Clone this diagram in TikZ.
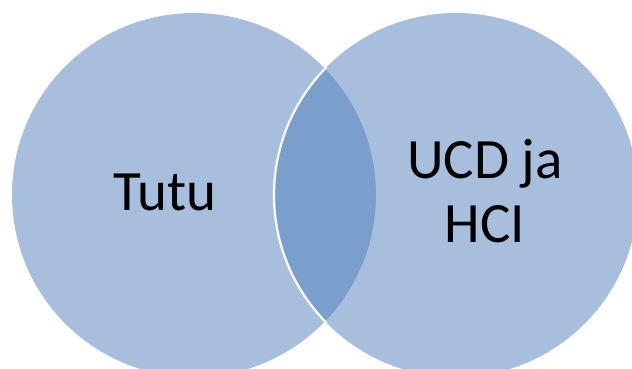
\documentclass[tikz,border=0pt]{standalone}
\usepackage{fontspec}
\setmainfont{Carlito}
\begin{document}
\begin{tikzpicture}[x=1pt,y=-1pt,
  setfill/.style={fill={rgb,255:red,167;green,191;blue,221}},
  lensfill/.style={fill={rgb,255:red,123;green,159;blue,204}},
  label/.style={anchor=base,inner sep=0pt,font=\fontsize{57}{64}\selectfont}]
  \useasboundingbox (0,0) rectangle (632,369);
  \clip (0,0) rectangle (632,369);
  % the two sets
  \fill[setfill] (194,195) circle [radius=182];
  \fill[setfill] (456,195) circle [radius=182];
  % overlap of the sets
  \begin{scope}
    \clip (194,195) circle [radius=182];
    \fill[lensfill] (456,195) circle [radius=182];
  \end{scope}
  % white rim of the right set inside the overlap
  \begin{scope}
    \clip (194,195) circle [radius=184];
    \draw[white, line width=2.2pt] (456,195) circle [radius=182];
  \end{scope}
  \node[label] (tutu) at (165,210) {Tutu};
  \node[label] (ucd) at (485,178) {UCD ja};
  \node[label] (hci) at (485,242) {HCI};
\end{tikzpicture}
\end{document}
